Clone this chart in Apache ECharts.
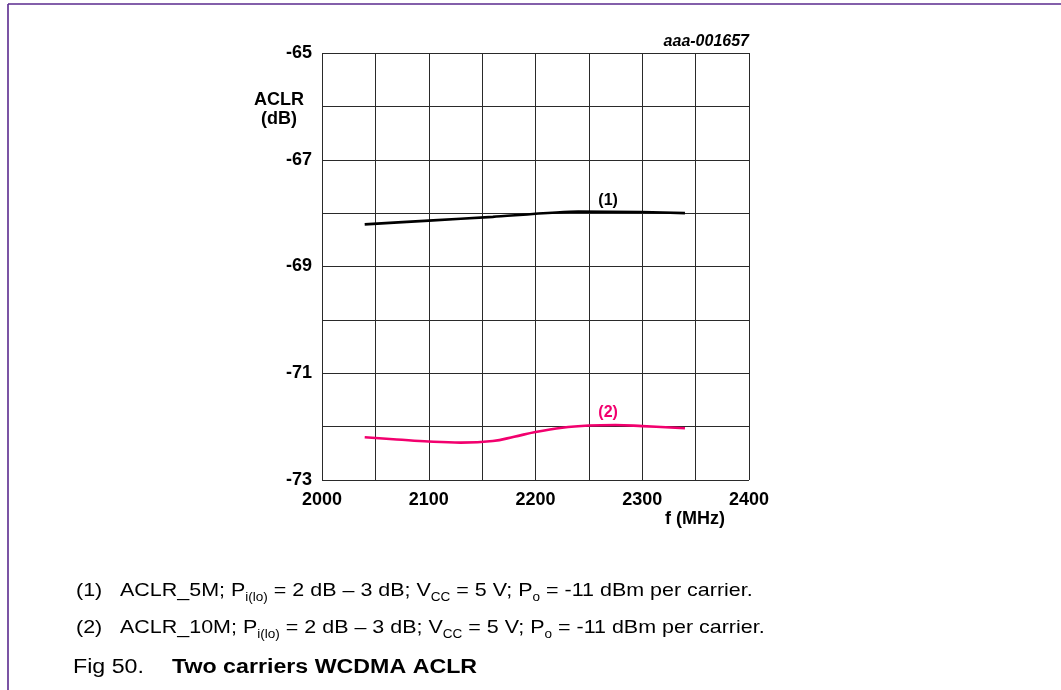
<!DOCTYPE html>
<html>
<head>
<meta charset="utf-8">
<script src="https://cdn.jsdelivr.net/npm/echarts@6/dist/echarts.min.js"></script>
<style>
  html, body { margin: 0; padding: 0; background: #fff; }
  #chart { width: 1061px; height: 690px; }
</style>
</head>
<body>
<div id="chart"></div>
<script>
// ACLR vs frequency, two-carrier WCDMA
const freqAclr5M = [2040, 2100, 2160, 2240, 2300, 2340];
const aclr5M     = [-68.21, -68.14, -68.07, -67.97, -67.98, -68.00];

const freqAclr10M = [2040, 2070, 2100, 2130, 2160, 2180, 2200, 2225, 2250, 2275, 2300, 2340];
const aclr10M     = [-72.20, -72.24, -72.28, -72.30, -72.27, -72.19, -72.10, -72.02, -71.98, -71.97, -71.99, -72.03];

const xTickLabels = [2000, 2100, 2200, 2300, 2400];
const yTickLabels = [-73, -71, -69, -67, -65];

const curveTags = [
  { text: '(1)', f: 2268, v: -67.77 },
  { text: '(2)', f: 2268, v: -71.74 }
];

const purple = '#5a2a8e';
const pink = '#f2006e';
const font = 'Liberation Sans, Arial, sans-serif';
const stretch = 1.13;

function pairs(xs, ys) { return xs.map((x, i) => [x, ys[i]]); }

const chart = echarts.init(document.getElementById('chart'), null, { renderer: 'canvas' });

const capStyle = {
  t: { fontSize: 19, fontFamily: font, color: '#1a1a1a', lineHeight: 26 },
  s: { fontSize: 12, fontFamily: font, color: '#1a1a1a', lineHeight: 14, verticalAlign: 'bottom' }
};

function noteLine(tag, body, y) {
  return [
    { type: 'text', x: 76, y: y, scaleX: stretch, style: { text: '{t|' + tag + '}', rich: capStyle } },
    { type: 'text', x: 120, y: y, scaleX: stretch, style: { text: body, rich: capStyle } }
  ];
}

chart.setOption({
  backgroundColor: '#fff',
  animation: false,
  grid: { left: 322, right: 312, top: 53, bottom: 210, containLabel: false },
  xAxis: {
    type: 'value', min: 2000, max: 2400, interval: 50,
    axisLine: { show: false },
    axisTick: { show: false },
    splitLine: { show: true, lineStyle: { color: '#2a2a2a', width: 1 } },
    axisLabel: {
      margin: 11, color: '#000', fontFamily: font, fontWeight: 'bold', fontSize: 18,
      formatter: v => xTickLabels.includes(v) ? String(v) : ''
    }
  },
  yAxis: {
    type: 'value', min: -73, max: -65, interval: 1,
    axisLine: { show: false },
    axisTick: { show: false },
    splitLine: { show: true, lineStyle: { color: '#2a2a2a', width: 1 } },
    axisLabel: {
      margin: 10, color: '#000', fontFamily: font, fontWeight: 'bold', fontSize: 18,
      formatter: v => yTickLabels.includes(v) ? String(v) : ''
    }
  },
  series: [
    {
      name: 'ACLR_5M', type: 'line', data: pairs(freqAclr5M, aclr5M),
      symbol: 'none', smooth: 0.2,
      lineStyle: { color: '#000', width: 2.6 },
      markPoint: {
        symbol: 'circle', symbolSize: 0,
        label: { show: true, formatter: curveTags[0].text, color: '#000', fontFamily: font, fontWeight: 'bold', fontSize: 16 },
        data: [{ coord: [curveTags[0].f, curveTags[0].v] }]
      }
    },
    {
      name: 'ACLR_10M', type: 'line', data: pairs(freqAclr10M, aclr10M),
      symbol: 'none', smooth: 0.4,
      lineStyle: { color: pink, width: 2.6 },
      markPoint: {
        symbol: 'circle', symbolSize: 0,
        label: { show: true, formatter: curveTags[1].text, color: pink, fontFamily: font, fontWeight: 'bold', fontSize: 16 },
        data: [{ coord: [curveTags[1].f, curveTags[1].v] }]
      }
    }
  ],
  graphic: [
    // page frame
    { type: 'line', shape: { x1: 8, y1: 4, x2: 1061, y2: 4 }, style: { stroke: purple, lineWidth: 1.6 } },
    { type: 'line', shape: { x1: 8, y1: 4, x2: 8, y2: 690 }, style: { stroke: purple, lineWidth: 1.6 } },
    // figure id
    { type: 'text', x: 749, y: 34, style: { text: 'aaa-001657', font: 'italic bold 16px ' + font, fill: '#000', align: 'right' } },
    // axis names
    { type: 'text', x: 279, y: 91, style: { text: 'ACLR\n(dB)', font: 'bold 18px ' + font, fill: '#000', align: 'center', lineHeight: 19 } },
    { type: 'text', x: 695, y: 510, style: { text: 'f (MHz)', font: 'bold 18px ' + font, fill: '#000', align: 'center' } },
    // notes
    ...noteLine('(1)', '{t|ACLR_5M; P}{s|i(lo)}{t| = 2 dB \u2013 3 dB; V}{s|CC}{t| = 5 V; P}{s|o}{t| = -11 dBm per carrier.}', 578),
    ...noteLine('(2)', '{t|ACLR_10M; P}{s|i(lo)}{t| = 2 dB \u2013 3 dB; V}{s|CC}{t| = 5 V; P}{s|o}{t| = -11 dBm per carrier.}', 615),
    { type: 'text', x: 73, y: 657, scaleX: 1.16, style: {
      text: '{a|Fig 50.}', rich: { a: { fontSize: 20, fontFamily: font, color: purple } } } },
    { type: 'text', x: 172, y: 657, scaleX: 1.16, style: {
      text: '{b|Two carriers WCDMA ACLR}', rich: { b: { fontSize: 20, fontFamily: font, color: purple, fontWeight: 'bold' } } } }
  ]
});
</script>
</body>
</html>
